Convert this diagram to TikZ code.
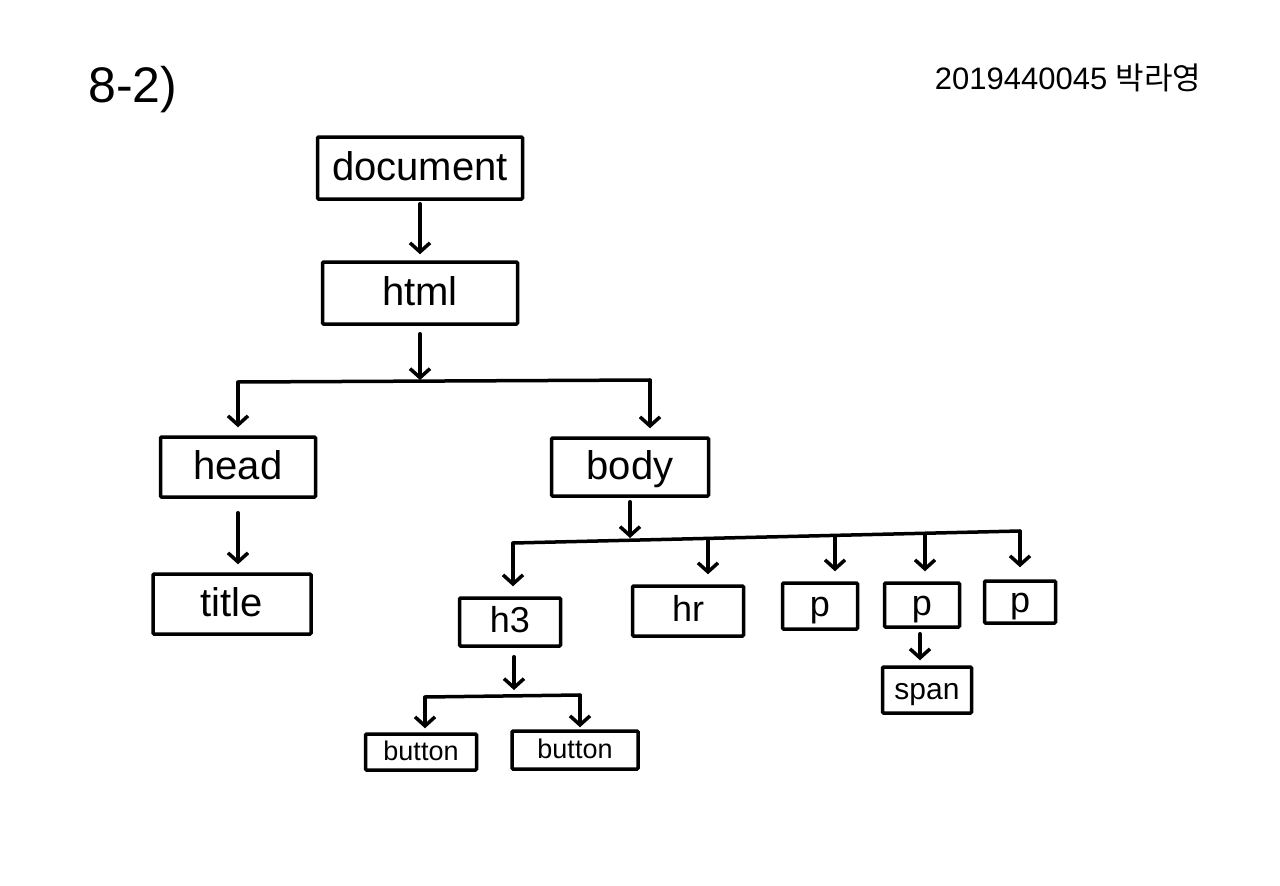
\documentclass[tikz,border=0pt]{standalone}
\usepackage{fontspec}
\setmainfont{Liberation Sans}
\newfontfamily\kofont{Noto Sans CJK KR}
\usetikzlibrary{arrows.meta,calc}
\begin{document}
\begin{tikzpicture}[x=1pt,y=-1pt,
  box/.style={draw, line width=3.5pt, inner sep=0pt, rounded corners=1pt},
  ln/.style={line width=3.5pt, line cap=round, line join=round},
  arr/.style={ln, -{Straight Barb[length=9pt,width=20pt,line width=3.5pt]}},
  big/.style={font=\fontsize{40}{44}\selectfont, text height=30pt, text depth=6pt},
  mid/.style={font=\fontsize{36}{40}\selectfont, text height=27pt, text depth=5.4pt},
  sml/.style={font=\fontsize{30}{34}\selectfont, text height=22.5pt, text depth=4.5pt},
  tny/.style={font=\fontsize{27}{30}\selectfont, text height=20pt, text depth=4pt}]
\useasboundingbox (0,0) rectangle (1280,886);
\fill[white] (0,0) rectangle (1280,886);

\node[font=\fontsize{50}{54}\selectfont, anchor=west] (num) at (85,90) {8-2)};
\node[font=\fontsize{31}{34}\selectfont, anchor=east] (name) at (1205,78) {2019440045 {\kofont 박라영}};

\node[box, big, minimum width=205pt, minimum height=62pt] (document) at (420,168) {document};
\node[box, big, minimum width=195pt, minimum height=62pt] (html) at (420,293) {html};
\node[box, big, minimum width=155pt, minimum height=60pt] (head) at (238,467) {head};
\node[box, big, minimum width=158pt, minimum height=60pt] (title) at (232,604) {title};
\node[box, big, minimum width=157pt, minimum height=58pt] (body) at (630,467) {body};

\node[box, mid, minimum width=101pt, minimum height=48pt] (h3) at (510,622) {h3};
\node[box, mid, minimum width=111pt, minimum height=50pt] (hr) at (688,611) {hr};
\node[box, mid, minimum width=75pt, minimum height=46pt] (p1) at (820,606) {p};
\node[box, mid, minimum width=75pt, minimum height=44pt] (p2) at (922,605) {p};
\node[box, mid, minimum width=71pt, minimum height=42pt] (p3) at (1020,602) {p};
\node[box, sml, minimum width=89pt, minimum height=46pt] (span) at (927,690) {span};
\node[box, tny, minimum width=111pt, minimum height=36pt] (button1) at (421,752) {button};
\node[box, tny, minimum width=126pt, minimum height=38pt] (button2) at (575,750) {button};

% document -> html
\draw[arr, shorten <=3pt, shorten >=6pt] (document) -- (html);

% html -> head, body
\coordinate (j1) at (420,380);
\coordinate (l1) at (238,382);
\coordinate (r1) at (650,380);
\draw[arr, shorten <=8pt] (html.south) -- (j1);
\draw[ln] (l1) -- (r1);
\draw[arr, shorten >=8pt] (l1) -- (head);
\draw[arr, shorten >=8pt] (r1) -- (r1 |- body.north);

% head -> title
\draw[arr, shorten <=14pt, shorten >=8pt] (head) -- (head |- title.north);

% body -> children
\coordinate (j2) at (630,538);
\coordinate (c1) at (513,543);
\coordinate (c2) at (708,540);
\coordinate (c3) at (835,537);
\coordinate (c4) at (925,534);
\coordinate (c5) at (1020,531);
\draw[arr, shorten <=4pt] (body.south) -- (j2);
\draw[ln] (c1) -- (c5);
\draw[arr, shorten >=10pt] (c1) -- (c1 |- h3.north);
\draw[arr, shorten >=10pt] (c2) -- (c2 |- hr.north);
\draw[arr, shorten >=10pt] (c3) -- (c3 |- p1.north);
\draw[arr, shorten >=10pt] (c4) -- (c4 |- p2.north);
\draw[arr, shorten >=12pt] (c5) -- (p3);

% h3 -> buttons
\coordinate (j3) at (514,690);
\coordinate (b1) at (425,697);
\coordinate (b2) at (580,695);
\draw[arr, shorten <=9pt] (h3.south -| j3) -- (j3);
\draw[ln] (b1) -- (b2);
\draw[arr, shorten >=4pt] (b1) -- (b1 |- button1.north);
\draw[arr, shorten >=2pt] (b2) -- (b2 |- button2.north);

% p2 -> span
\draw[arr, shorten <=5pt, shorten >=5pt] (p2.south -| 920,0) -- (span.north -| 920,0);
\end{tikzpicture}
\end{document}
